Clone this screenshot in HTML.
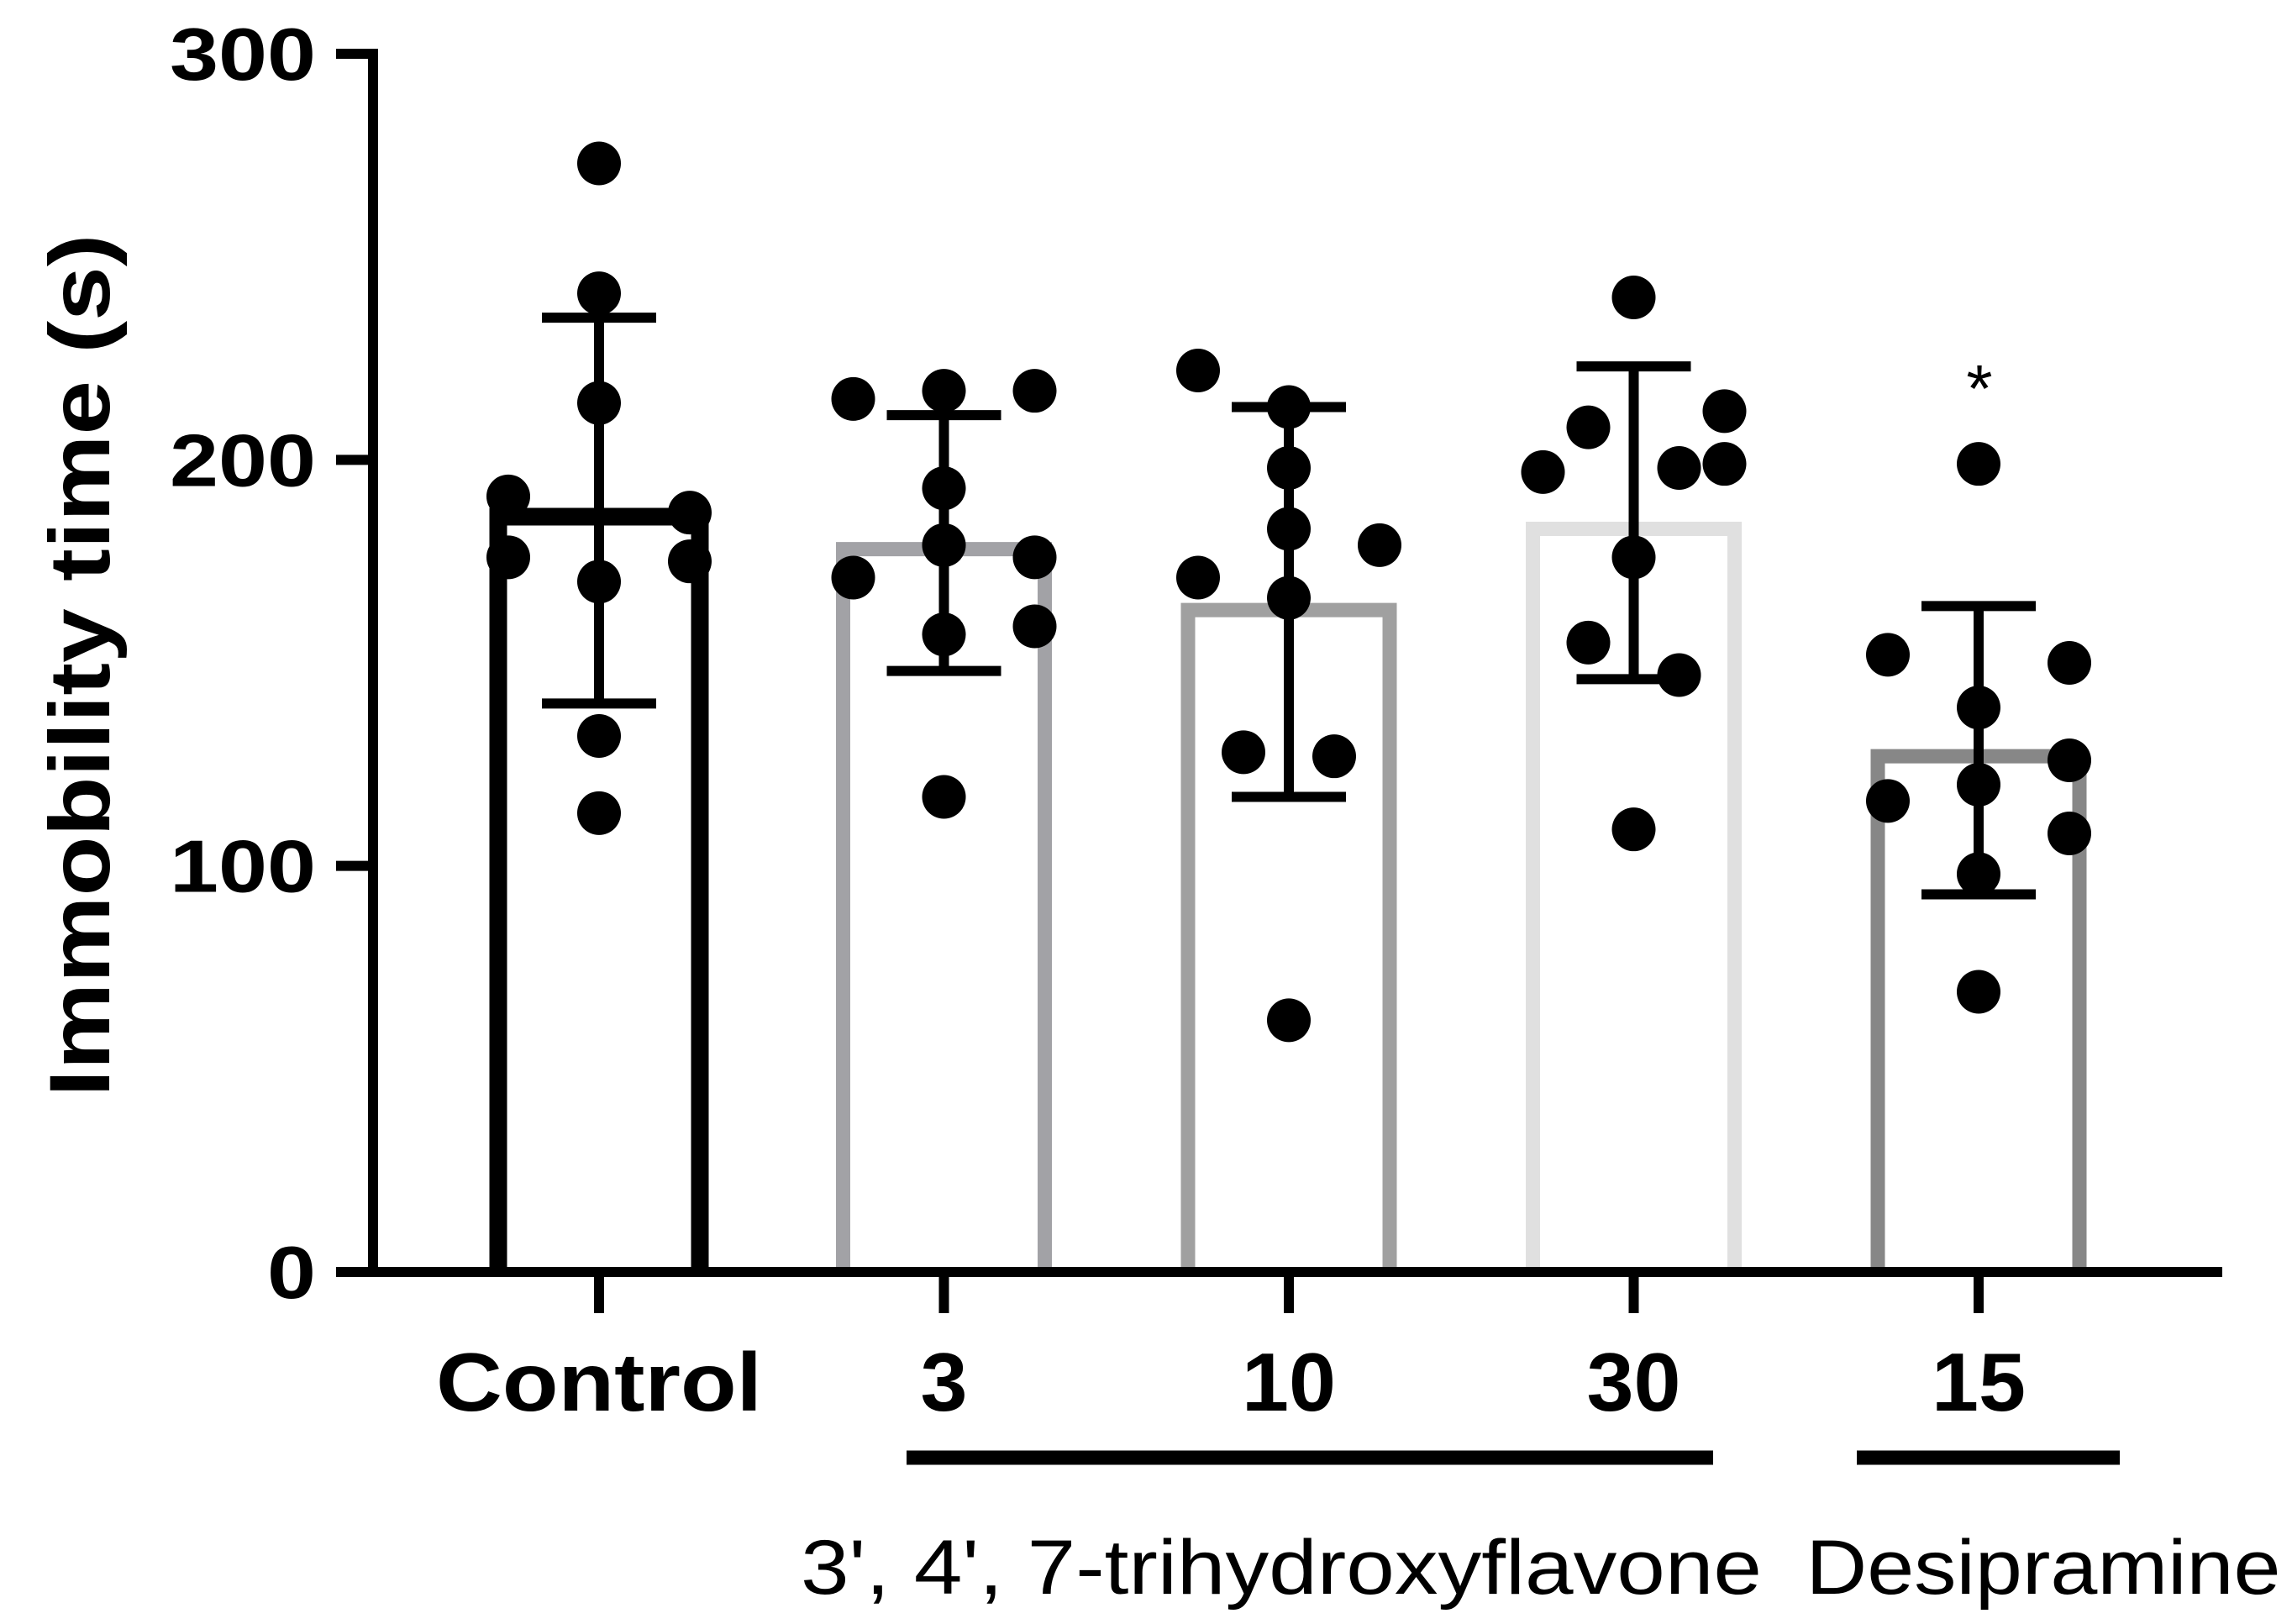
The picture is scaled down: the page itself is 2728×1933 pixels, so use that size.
<!DOCTYPE html>
<html><head><meta charset="utf-8"><style>
html,body{margin:0;padding:0;background:#fff;}
svg{display:block;font-family:"Liberation Sans",Arial,sans-serif;}
</style></head><body>
<svg id="chart" width="2728" height="1933" viewBox="0 0 2728 1933" xmlns="http://www.w3.org/2000/svg"></svg>
<script>
const categories=["Control","3","10","30","15"];
const barColors=["#000000","#a2a2a6","#a0a0a0","#e0e0e0","#878787"];
const means=[186,178,163,183,127];
const errUpper=[235,211,213,223,164];
const errLower=[140,148,117,146,93];
const pointsControl=[273,241,214,191,176,187,175,170,132,113];
const jitterControl=[0,0,0,-2,-2,2,2,0,0,0];
const points3=[215,217,217,193,179,171,176,157,159,117];
const jitter3=[-2,0,2,0,0,-2,2,0,2,0];
const points10=[222,213,198,183,179,171,166,128,127,62];
const jitter10=[-2,0,0,0,2,-2,0,-1,1,0];
const points30=[240,197,208,198,212,199,176,155,147,109];
const jitter30=[0,-2,-1,1,2,2,0,-1,1,0];
const points15=[199,152,150,139,126,120,116,108,98,69];
const jitter15=[0,-2,2,0,2,0,-2,2,0,0];
const yTicks=[0,100,200,300];

const allPoints=[pointsControl,points3,points10,points30,points15];
const allJitter=[jitterControl,jitter3,jitter10,jitter30,jitter15];
const NS="http://www.w3.org/2000/svg";
const svg=document.getElementById('chart');
const x0=444,y0=1514,yTop=64,yMax=300;
function yS(v){return y0-(v/yMax)*(y0-yTop);}
function xS(i){return 713+i*410.5;}
const jitterUnit=54;
function el(tag,attrs,parent){const e=document.createElementNS(NS,tag);for(const k in attrs)e.setAttribute(k,attrs[k]);(parent||svg).appendChild(e);return e;}

// bars
categories.forEach((c,i)=>{
  const sw=i===0?21:17;
  const w=240;
  const b=el('path',{d:`M${xS(i)-w/2} ${y0} V${yS(means[i])} H${xS(i)+w/2} V${y0}`,fill:'#fff',stroke:barColors[i],'stroke-width':sw});
  
  
});
// points
allPoints.forEach((arr,i)=>{
  arr.forEach((v,j)=>{
    const p=el('circle',{cx:xS(i)+allJitter[i][j]*jitterUnit,cy:yS(v),r:26,fill:'#000'});
    
    
  });
});
// error bars
categories.forEach((c,i)=>{
  const g=el('g',{stroke:'#000','stroke-width':12,fill:'none'});
  
  
  el('line',{x1:xS(i),x2:xS(i),y1:yS(errUpper[i]),y2:yS(errLower[i])},g);
  el('line',{x1:xS(i)-68,x2:xS(i)+68,y1:yS(errUpper[i]),y2:yS(errUpper[i])},g);
  el('line',{x1:xS(i)-68,x2:xS(i)+68,y1:yS(errLower[i]),y2:yS(errLower[i])},g);
});
// axes
const ya=el('line',{x1:x0,x2:x0,y1:yTop-6,y2:y0+6,stroke:'#000','stroke-width':12});

const xa=el('line',{x1:x0-6,x2:2645,y1:y0,y2:y0,stroke:'#000','stroke-width':12});

yTicks.forEach(t=>{
  const tk=el('line',{x1:400,x2:x0,y1:yS(t),y2:yS(t),stroke:'#000','stroke-width':12});
  
  const s=String(t);
  const tl=el('text',{x:376,y:yS(t)+31,'text-anchor':'end','font-size':88,'font-weight':'bold',textLength:s.length*58,lengthAdjust:'spacingAndGlyphs'});
  tl.textContent=s;
  
});
categories.forEach((c,i)=>{
  const tk=el('line',{x1:xS(i),x2:xS(i),y1:y0,y2:1563,stroke:'#000','stroke-width':12});
  
  const len=c==="Control"?388:c.length*56;
  const tl=el('text',{x:xS(i),y:1679,'text-anchor':'middle','font-size':98,'font-weight':'bold',textLength:len,lengthAdjust:'spacingAndGlyphs'});
  tl.textContent=c;
  
});
</script>
<svg style="position:absolute;left:0;top:0" width="2728" height="1933">
<text transform="translate(130,792) rotate(-90)" text-anchor="middle" font-size="102" font-weight="bold" font-family="Liberation Sans, Arial, sans-serif" textLength="1027" lengthAdjust="spacingAndGlyphs">Immobility time (s)</text>
<line x1="1079" x2="2039" y1="1735" y2="1735" stroke="#000" stroke-width="17"/>
<line x1="2210" x2="2523" y1="1735" y2="1735" stroke="#000" stroke-width="17"/>
<text x="1525" y="1897" text-anchor="middle" font-size="92" font-family="Liberation Sans, Arial, sans-serif" textLength="1144" lengthAdjust="spacingAndGlyphs">3', 4', 7-trihydroxyflavone</text>
<text x="2432" y="1897" text-anchor="middle" font-size="92" font-family="Liberation Sans, Arial, sans-serif" textLength="565" lengthAdjust="spacingAndGlyphs">Desipramine</text>
<text x="2356" y="490" text-anchor="middle" font-size="80" font-family="Liberation Sans, Arial, sans-serif">*</text>
</svg>
</body></html>
